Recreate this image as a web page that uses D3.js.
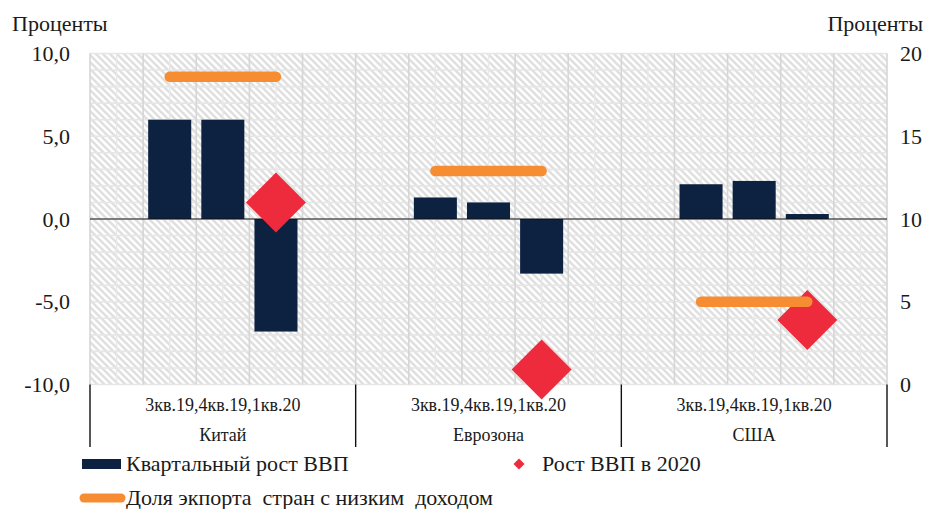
<!DOCTYPE html>
<html><head><meta charset="utf-8">
<script src="https://cdn.jsdelivr.net/npm/d3@7"></script>
<style>
html,body{margin:0;padding:0;background:#fff;}
</style></head>
<body><svg id="chart" width="927" height="509"></svg>
<script>
const categories = ["Китай", "Еврозона", "США"];
const quarters = ["3кв.19", "4кв.19", "1кв.20"];
const quarterLabel = "3кв.19,4кв.19,1кв.20";
const gdpQuarterly = [[6.0, 6.0, -6.8], [1.3, 1.0, -3.3], [2.1, 2.3, 0.3]];
const gdp2020 = [1.0, -9.1, -6.1];
const exportShare = [[18.6, 18.6, 18.6], [12.9, 12.9, 12.9], [5.0, 5.0, 5.0]];
const leftTicks = [-10, -5, 0, 5, 10];
const rightTicks = [0, 5, 10, 15, 20];
const axisTitle = "Проценты";
const legendLabels = ["Квартальный рост ВВП", "Рост ВВП в 2020", "Доля экпорта  стран с низким  доходом"];

const C_BAR = "#0c2240", C_RED = "#ee2b3c", C_ORANGE = "#f68d33", C_TEXT = "#1a1a1a";
const FONT = '"Liberation Serif", "Times New Roman", serif';
const svg = d3.select("#chart");
const L = 90, R = 887, T = 53.5, B = 384.5;

const x0 = d3.scaleBand().domain(categories).range([L, R]);
const slots = ["s0", ...quarters, "s4"];
const x1 = d3.scaleBand().domain(slots).range([0, x0.bandwidth()]);
const yL = d3.scaleLinear().domain([-10, 10]).range([B, T]);
const yR = d3.scaleLinear().domain([0, 20]).range([B, T]);
const fmt = v => d3.format(".1f")(v).replace(".", ",").replace("\u2212", "-");

// hatch pattern
const defs = svg.append("defs");
const pat = defs.append("pattern").attr("id", "hatch").attr("patternUnits", "userSpaceOnUse")
  .attr("width", 7).attr("height", 7);
pat.append("rect").attr("width", 7).attr("height", 7).attr("fill", "#fff");
pat.append("path").attr("d", "M-1,-1 L8,8 M-8,-1 L1,8 M6,-1 L15,8")
  .attr("stroke", "#e0e0e0").attr("stroke-width", 2.6);

svg.append("rect").attr("x", L).attr("y", T).attr("width", R - L).attr("height", B - T).attr("fill", "url(#hatch)");

// horizontal grid
const hVals = d3.range(-10, 11, 1);
svg.append("g").selectAll("line").data(hVals).join("line")
  .attr("x1", L).attr("x2", R).attr("y1", d => yL(d)).attr("y2", d => yL(d))
  .attr("stroke", "#e6e6e6").attr("stroke-width", 1.6);

// vertical grid
const vMinor = [], vMajor = [];
categories.forEach(c => slots.forEach(s => {
  vMajor.push(x0(c) + x1(s));
  vMinor.push(x0(c) + x1(s) + x1.bandwidth() / 2);
}));
vMajor.push(R);
svg.append("g").selectAll("line").data(vMinor).join("line")
  .attr("x1", d => d).attr("x2", d => d).attr("y1", T).attr("y2", B)
  .attr("stroke", "#e8e8e8").attr("stroke-width", 1.4);
svg.append("g").selectAll("line").data(vMajor).join("line")
  .attr("x1", d => d).attr("x2", d => d).attr("y1", T).attr("y2", B)
  .attr("stroke", "#d6d6d6").attr("stroke-width", 1.6);

// bars
const barData = [];
categories.forEach((c, i) => quarters.forEach((q, j) => barData.push({ c, q, v: gdpQuarterly[i][j] })));
const bw = x1.bandwidth() * 0.81;
svg.append("g").selectAll("rect").data(barData).join("rect")
  .attr("x", d => x0(d.c) + x1(d.q) + (x1.bandwidth() - bw) / 2)
  .attr("width", bw)
  .attr("y", d => yL(Math.max(0, d.v)))
  .attr("height", d => Math.abs(yL(d.v) - yL(0)))
  .attr("fill", C_BAR);

// zero line
svg.append("line").attr("x1", L).attr("x2", R).attr("y1", yL(0)).attr("y2", yL(0))
  .attr("stroke", "#111").attr("stroke-width", 1.2);

// diamonds
const dd = 30;
svg.append("g").selectAll("path").data(categories).join("path")
  .attr("transform", (c, i) => `translate(${x0(c) + x1(quarters[2]) + x1.bandwidth() / 2},${yL(gdp2020[i])})`)
  .attr("d", `M0,${-dd} L${dd},0 L0,${dd} L${-dd},0 Z`)
  .attr("fill", C_RED);

// orange lines
const line = d3.line().x(d => d.x).y(d => d.y);
svg.append("g").selectAll("path").data(categories).join("path")
  .attr("d", (c, i) => line(quarters.map((q, j) => ({ x: x0(c) + x1(q) + x1.bandwidth() / 2, y: yR(exportShare[i][j]) }))))
  .attr("fill", "none").attr("stroke", C_ORANGE).attr("stroke-width", 10.5).attr("stroke-linecap", "round");

// axes
const axL = svg.append("g").attr("transform", `translate(${L},0)`)
  .call(d3.axisLeft(yL).tickValues(leftTicks).tickFormat(fmt).tickSize(0).tickPadding(20));
const axR = svg.append("g").attr("transform", `translate(${R},0)`)
  .call(d3.axisRight(yR).tickValues(rightTicks).tickFormat(d3.format("d")).tickSize(0).tickPadding(13));
[axL, axR].forEach(a => {
  a.select(".domain").remove();
  a.selectAll("text").attr("font-size", 22).attr("fill", C_TEXT);
});

// titles
svg.append("text").attr("x", 12).attr("y", 31).attr("font-size", 22).attr("fill", C_TEXT).text(axisTitle);
svg.append("text").attr("x", 923).attr("y", 31).attr("text-anchor", "end").attr("font-size", 22).attr("fill", C_TEXT).text(axisTitle);

// category axis separators
const seps = categories.map(c => x0(c)).concat([R]);
svg.append("g").selectAll("line").data(seps).join("line")
  .attr("x1", d => d).attr("x2", d => d).attr("y1", B).attr("y2", 447)
  .attr("stroke", "#111").attr("stroke-width", 1.4);

svg.append("g").selectAll("text").data(categories).join("text")
  .attr("x", c => x0(c) + x0.bandwidth() / 2).attr("y", 411)
  .attr("text-anchor", "middle").attr("font-size", 18).attr("fill", C_TEXT).text(quarterLabel);
svg.append("g").selectAll("text").data(categories).join("text")
  .attr("x", c => x0(c) + x0.bandwidth() / 2).attr("y", 441)
  .attr("text-anchor", "middle").attr("font-size", 18).attr("fill", C_TEXT).text(c => c);

// legend
const lg = svg.append("g");
lg.append("rect").attr("x", 82).attr("y", 459).attr("width", 39).attr("height", 10).attr("fill", C_BAR);
lg.append("text").attr("x", 126).attr("y", 471).attr("font-size", 22).attr("fill", C_TEXT).text(legendLabels[0]);
lg.append("path").attr("transform", "translate(519,464)").attr("d", "M0,-5.5 L5.5,0 L0,5.5 L-5.5,0 Z").attr("fill", C_RED);
lg.append("text").attr("x", 542).attr("y", 471).attr("font-size", 22).attr("fill", C_TEXT).text(legendLabels[1]);
lg.append("line").attr("x1", 84).attr("x2", 121).attr("y1", 498).attr("y2", 498)
  .attr("stroke", C_ORANGE).attr("stroke-width", 9).attr("stroke-linecap", "round");
lg.append("text").attr("x", 126).attr("y", 505).attr("font-size", 22).attr("fill", C_TEXT)
  .style("white-space", "pre").text(legendLabels[2]);

svg.selectAll("text").style("font-family", FONT);
</script></body></html>
